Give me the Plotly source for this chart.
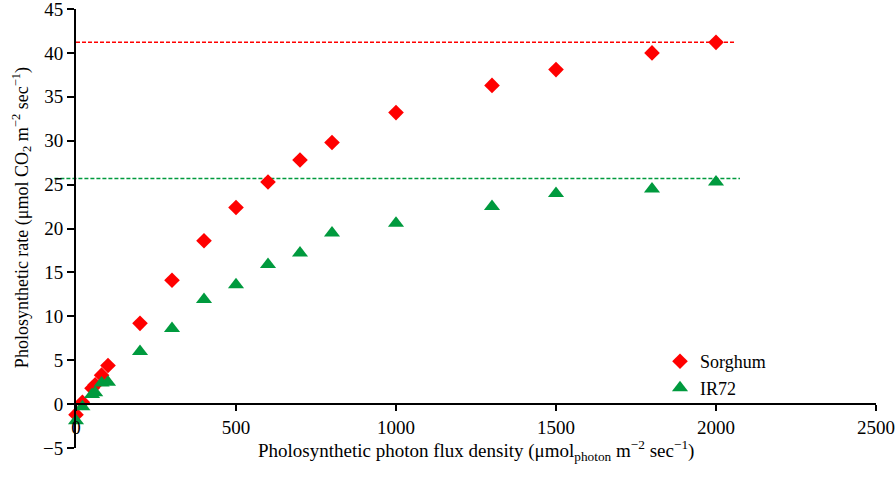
import plotly.graph_objects as go

# light levels (PPFD)
ppfd = [0, 20, 50, 60, 80, 100, 200, 300, 400, 500, 600, 700, 800, 1000, 1300, 1500, 1800, 2000]
sorghum = [-1.2, 0.2, 1.8, 2.2, 3.3, 4.4, 9.2, 14.1, 18.6, 22.4, 25.3, 27.8, 29.8, 33.2, 36.3, 38.1, 40.0, 41.2]
ir72 = [-1.9, -0.3, 1.1, 1.3, 2.4, 2.5, 6.0, 8.6, 11.9, 13.6, 15.9, 17.2, 19.5, 20.6, 22.5, 24.0, 24.5, 25.3]

sorghum_max = 41.2
ir72_max = 25.7

red = '#ff0000'
green = '#009a3e'
font = 'Liberation Serif, Times New Roman, serif'

fig = go.Figure()
fig.add_trace(go.Scatter(x=ppfd, y=sorghum, mode='markers', name='Sorghum',
                         marker=dict(symbol='diamond', size=12, color=red), cliponaxis=False))
fig.add_trace(go.Scatter(x=ppfd, y=ir72, mode='markers', name='IR72',
                         marker=dict(symbol='triangle-up', size=14, color=green), cliponaxis=False))

# plateau lines
fig.add_shape(type='line', xref='x', yref='y', x0=0, x1=2060, y0=sorghum_max, y1=sorghum_max,
              line=dict(color=red, width=1.5, dash='4px,2px'), layer='below')
fig.add_shape(type='line', xref='paper', yref='y', x0=-0.027, x1=2075 / 2500, y0=ir72_max, y1=ir72_max,
              line=dict(color=green, width=1.5, dash='4px,2px'), layer='below')

fig.update_layout(
    width=896, height=491,
    margin=dict(l=76, r=20, t=9, b=43, autoexpand=False),
    plot_bgcolor='white', paper_bgcolor='white',
    font=dict(family=font, size=18, color='black'),
    showlegend=True,
    legend=dict(x=0.73, y=0.239, xanchor='left', yanchor='top', bgcolor='rgba(0,0,0,0)',
                font=dict(size=18), itemwidth=30, tracegroupgap=0),
    xaxis=dict(range=[0, 2500], tickvals=[0, 500, 1000, 1500, 2000, 2500], showgrid=False,
               zeroline=False, showline=True, linecolor='black', linewidth=2,
               ticks='outside', ticklen=6, tickwidth=2, tickcolor='black',
               tickfont=dict(size=19), anchor='free', position=0.1, ticklabeloverflow='allow'),
    yaxis=dict(range=[-5, 45.001], tickvals=[-5, 0, 5, 10, 15, 20, 25, 30, 35, 40, 45],
               showgrid=False, zeroline=False, showline=True,
               linecolor='black', linewidth=2, ticks='outside', ticklen=7, tickwidth=2,
               tickcolor='black', tickfont=dict(size=19), ticklabeloverflow='allow'),
    annotations=[
        dict(text='Pholosynthetic photon flux density (μmol<sub>photon</sub> m<sup>−2</sup> sec<sup>−1</sup>)',
             xref='paper', yref='paper', x=0.5, y=-0.005, yanchor='middle', showarrow=False,
             font=dict(size=19)),
        dict(text='Pholosynthetic rate (μmol CO<sub>2</sub> m<sup>−2</sup> sec<sup>−1</sup>)',
             xref='paper', yref='paper', x=-0.068, y=0.525, xanchor='center', yanchor='middle',
             textangle=-90, showarrow=False, font=dict(size=18)),
    ],
)

fig.write_html("out.html", config={'displayModeBar': False},
               post_script="document.body.style.margin='0';")
